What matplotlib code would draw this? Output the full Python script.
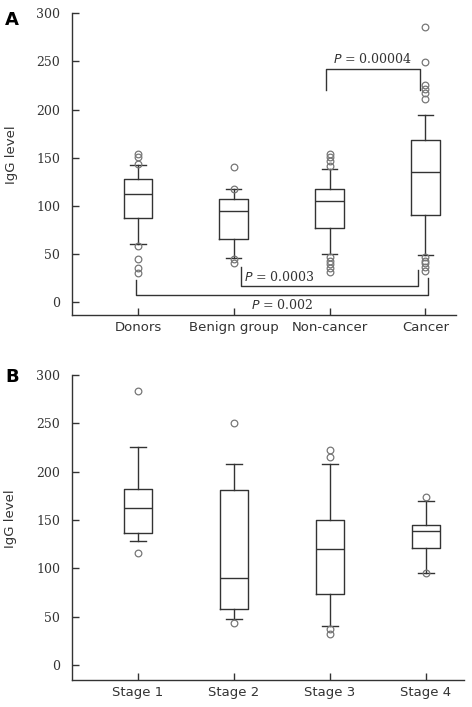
import matplotlib.pyplot as plt

# Panel A: IgG level per group (box statistics)
groups_a = ["Donors", "Benign group", "Non-cancer", "Cancer"]
med_a = [111.8, 94.5, 104.5, 134.7]
q1_a = [86.9, 65.7, 76.8, 90.0]
q3_a = [127.7, 107.0, 117.3, 167.9]
lo_a = [59.9, 46.0, 49.5, 48.5]
hi_a = [142.0, 117.0, 137.8, 194.5]
out_a = [
    [153.5, 150.5, 143.0, 58.5, 45.0, 35.0, 30.0],
    [140.5, 117.5, 45.0, 40.0],
    [154.0, 151.0, 146.0, 141.0, 47.0, 43.0, 39.0, 35.0, 31.0],
    [285.5, 249.5, 225.0, 221.5, 217.0, 211.0, 47.0, 43.0, 40.0, 36.0, 32.0],
]

# Panel B: IgG level per cancer stage
groups_b = ["Stage 1", "Stage 2", "Stage 3", "Stage 4"]
med_b = [162.0, 89.6, 120.0, 138.9]
q1_b = [136.2, 57.6, 73.4, 120.6]
q3_b = [182.3, 181.3, 150.0, 145.0]
lo_b = [128.6, 47.3, 40.3, 95.5]
hi_b = [225.8, 207.5, 207.5, 169.3]
out_b = [
    [283.7, 115.5],
    [250.0, 43.7],
    [222.0, 214.8, 36.9, 32.0],
    [173.4, 95.5],
]

# significance brackets: (left x, right x, left leg top, right leg top, bar y, label)
brackets = [
    (2.96, 3.94, 220, 220, 241.6, "0.00004"),
    (2.08, 3.92, 36.7, 33, 16.6, "0.0003"),
    (0.98, 4.03, 22.8, 24.9, 6.9, "0.002"),
]

INK = "#333333"
FLIER = "#777777"
NUM_FONT = "DejaVu Serif"


def _stats(meds, q1s, q3s, los, his, outs):
    return [
        dict(med=m, q1=a, q3=b, whislo=lo, whishi=hi, fliers=f)
        for m, a, b, lo, hi, f in zip(meds, q1s, q3s, los, his, outs)
    ]


def _draw(ax, stats, labels, xlim, ylim):
    line = dict(color=INK, linewidth=1.0)
    ax.bxp(
        stats,
        positions=range(1, len(stats) + 1),
        widths=0.3,
        capwidths=0.16,
        boxprops=line,
        whiskerprops=line,
        capprops=line,
        medianprops=line,
        flierprops=dict(marker="o", markersize=4.8, markerfacecolor="none",
                        markeredgecolor=FLIER, markeredgewidth=0.9),
        manage_ticks=False,
    )
    ax.set_xlim(*xlim)
    ax.set_ylim(*ylim)
    ax.set_xticks(range(1, len(labels) + 1))
    ax.set_xticklabels(labels, fontsize=9.5, color=INK)
    ax.set_yticks(range(0, 301, 50))
    ax.set_yticklabels([str(v) for v in range(0, 301, 50)], fontsize=9,
                       color=INK, family=NUM_FONT)
    ax.tick_params(direction="in", length=5, width=1, colors=INK)
    ax.tick_params(axis="y", pad=8.5, labelcolor=INK)
    ax.tick_params(axis="x", pad=4, labelcolor=INK)
    for side in ("top", "right"):
        ax.spines[side].set_visible(False)
    for side in ("left", "bottom"):
        ax.spines[side].set_color(INK)
        ax.spines[side].set_linewidth(1.0)
    ax.spines["left"].set_bounds(ylim[0], 300)
    ax.set_ylabel("IgG level", fontsize=9.5, color=INK)
    ax.yaxis.set_label_coords(-0.14, 0.53)


fig = plt.figure(figsize=(4.72, 7.07), dpi=100)
ax_a = fig.add_axes([0.1525, 0.5545, 0.8136, 0.4267])
ax_b = fig.add_axes([0.1525, 0.0382, 0.8305, 0.4314])

_draw(ax_a, _stats(med_a, q1_a, q3_a, lo_a, hi_a, out_a), groups_a,
      (0.31, 4.32), (-13.5, 300))
_draw(ax_b, _stats(med_b, q1_b, q3_b, lo_b, hi_b, out_b), groups_b,
      (0.3125, 4.396), (-15.5, 300))

# brackets in panel A
for x0, x1, t0, t1, y, label in brackets:
    ax_a.plot([x0, x0, x1, x1], [t0, y, y, t1], color=INK, linewidth=1.0,
              clip_on=False)

ptext = dict(fontsize=9, color=INK, family=NUM_FONT)
ax_a.text(3.45, 245, r"$\it{P}$ = " + brackets[0][5], ha="center",
          va="bottom", **ptext)
ax_a.text(2.11, 19, r"$\it{P}$ = " + brackets[1][5], ha="left",
          va="bottom", **ptext)
ax_a.text(2.51, 4, r"$\it{P}$ = " + brackets[2][5], ha="center",
          va="top", **ptext)

fig.text(0.025, 0.972, "A", fontsize=13, fontweight="bold", ha="center",
         va="center", color="black")
fig.text(0.025, 0.467, "B", fontsize=13, fontweight="bold", ha="center",
         va="center", color="black")

fig.savefig("out.png", dpi=100)
plt.close(fig)
